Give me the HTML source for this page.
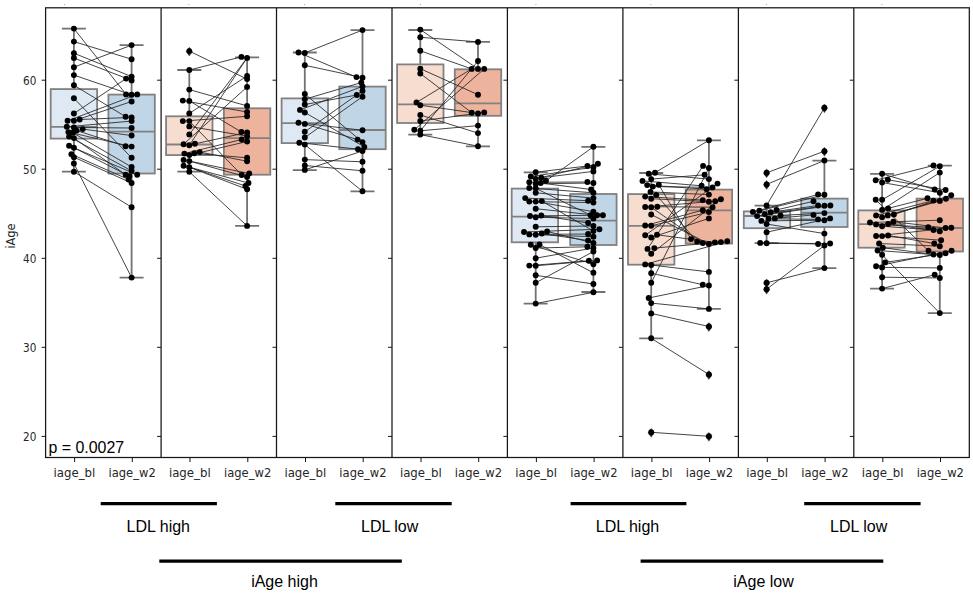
<!DOCTYPE html>
<html lang="en"><head><meta charset="utf-8"><title>iAge paired boxplots</title>
<style>html,body{margin:0;padding:0;background:#fff}svg{display:block}.dv{font-family:"DejaVu Sans","Liberation Sans",sans-serif;fill:#262626}.ar{font-family:"Liberation Sans",Arial,Helvetica,sans-serif;fill:#000}</style></head><body>
<svg width="973" height="596" viewBox="0 0 973 596">
<rect width="973" height="596" fill="#fff"/>
<rect x="64.0" y="4" width="1.1" height="1" fill="#a8a8a8"/>
<rect x="188.3" y="4" width="1.1" height="1" fill="#a8a8a8"/>
<rect x="304.0" y="4" width="1.1" height="1" fill="#a8a8a8"/>
<rect x="419.9" y="4" width="1.1" height="1" fill="#a8a8a8"/>
<rect x="535.4" y="4" width="1.1" height="1" fill="#a8a8a8"/>
<rect x="650.2" y="4" width="1.1" height="1" fill="#a8a8a8"/>
<rect x="766.0" y="4" width="1.1" height="1" fill="#a8a8a8"/>
<rect x="881.3" y="4" width="1.1" height="1" fill="#a8a8a8"/>
<g id="panel1">
<path d="M73.9 28.6V89.1M73.9 138.6V171.7M61.9 28.6H85.9M61.9 171.7H85.9" stroke="#727272" stroke-width="1.8" fill="none"/>
<rect x="50.7" y="89.1" width="46.4" height="49.5" fill="#dee9f3" stroke="#818181" stroke-width="1.8"/>
<path d="M50.7 126.8H97.1" stroke="#818181" stroke-width="1.8"/>
<path d="M131.6 45.1V94.6M131.6 173.5V277.6M119.6 45.1H143.6M119.6 277.6H143.6" stroke="#727272" stroke-width="1.8" fill="none"/>
<rect x="108.4" y="94.6" width="46.4" height="78.9" fill="#c0d5e5" stroke="#818181" stroke-width="1.8"/>
<path d="M108.4 131.6H154.8" stroke="#818181" stroke-width="1.8"/>
<path d="M73.9 28.6L126.1 94.4M73.9 41.6L131.6 59.2M73.9 53.2L131.6 76.6M73.9 58.0L131.6 80.4M73.9 67.2L131.6 45.1M73.9 75.1L131.6 94.8M73.9 85.2L125.6 116.7M73.9 98.3L131.6 157.8M73.9 113.5L126.1 78.6M67.6 120.8L137.2 94.4M73.9 120.8L131.6 101.5M79.7 119.5L131.6 117.4M66.8 126.8L131.6 121.1M73.9 127.5L131.6 128.0M82.7 129.1L131.6 135.5M76.7 130.6L125.6 146.2M68.4 132.1L131.6 146.6M72.9 132.8L131.6 167.0M69.1 136.6L131.6 170.9M73.9 138.1L125.6 174.7M69.1 145.8L137.2 174.7M73.9 147.7L129.4 176.2M71.4 154.2L128.6 179.5M73.9 157.2L131.6 183.0M73.9 163.5L131.6 277.6M73.9 171.7L131.6 207.2" stroke="#242424" stroke-width="0.85" fill="none"/>
<circle cx="73.9" cy="28.6" r="2.95" fill="#000"/>
<circle cx="73.9" cy="41.6" r="2.95" fill="#000"/>
<circle cx="73.9" cy="53.2" r="2.95" fill="#000"/>
<circle cx="73.9" cy="58.0" r="2.95" fill="#000"/>
<circle cx="73.9" cy="67.2" r="2.95" fill="#000"/>
<circle cx="73.9" cy="75.1" r="2.95" fill="#000"/>
<circle cx="73.9" cy="85.2" r="2.95" fill="#000"/>
<circle cx="73.9" cy="98.3" r="2.95" fill="#000"/>
<circle cx="73.9" cy="113.5" r="2.95" fill="#000"/>
<circle cx="67.6" cy="120.8" r="2.95" fill="#000"/>
<circle cx="73.9" cy="120.8" r="2.95" fill="#000"/>
<circle cx="79.7" cy="119.5" r="2.95" fill="#000"/>
<circle cx="66.8" cy="126.8" r="2.95" fill="#000"/>
<circle cx="73.9" cy="127.5" r="2.95" fill="#000"/>
<circle cx="82.7" cy="129.1" r="2.95" fill="#000"/>
<circle cx="76.7" cy="130.6" r="2.95" fill="#000"/>
<circle cx="68.4" cy="132.1" r="2.95" fill="#000"/>
<circle cx="72.9" cy="132.8" r="2.95" fill="#000"/>
<circle cx="69.1" cy="136.6" r="2.95" fill="#000"/>
<circle cx="73.9" cy="138.1" r="2.95" fill="#000"/>
<circle cx="69.1" cy="145.8" r="2.95" fill="#000"/>
<circle cx="73.9" cy="147.7" r="2.95" fill="#000"/>
<circle cx="71.4" cy="154.2" r="2.95" fill="#000"/>
<circle cx="73.9" cy="157.2" r="2.95" fill="#000"/>
<circle cx="73.9" cy="163.5" r="2.95" fill="#000"/>
<circle cx="73.9" cy="171.7" r="2.95" fill="#000"/>
<circle cx="131.6" cy="45.1" r="2.95" fill="#000"/>
<circle cx="131.6" cy="59.2" r="2.95" fill="#000"/>
<circle cx="131.6" cy="76.6" r="2.95" fill="#000"/>
<circle cx="126.1" cy="78.6" r="2.95" fill="#000"/>
<circle cx="131.6" cy="80.4" r="2.95" fill="#000"/>
<circle cx="126.1" cy="94.4" r="2.95" fill="#000"/>
<circle cx="131.6" cy="94.8" r="2.95" fill="#000"/>
<circle cx="137.2" cy="94.4" r="2.95" fill="#000"/>
<circle cx="131.6" cy="101.5" r="2.95" fill="#000"/>
<circle cx="125.6" cy="116.7" r="2.95" fill="#000"/>
<circle cx="131.6" cy="117.4" r="2.95" fill="#000"/>
<circle cx="131.6" cy="121.1" r="2.95" fill="#000"/>
<circle cx="131.6" cy="128.0" r="2.95" fill="#000"/>
<circle cx="131.6" cy="135.5" r="2.95" fill="#000"/>
<circle cx="125.6" cy="146.2" r="2.95" fill="#000"/>
<circle cx="131.6" cy="146.6" r="2.95" fill="#000"/>
<circle cx="131.6" cy="157.8" r="2.95" fill="#000"/>
<circle cx="131.6" cy="167.0" r="2.95" fill="#000"/>
<circle cx="131.6" cy="170.9" r="2.95" fill="#000"/>
<circle cx="125.6" cy="174.7" r="2.95" fill="#000"/>
<circle cx="137.2" cy="174.7" r="2.95" fill="#000"/>
<circle cx="129.4" cy="176.2" r="2.95" fill="#000"/>
<circle cx="128.6" cy="179.5" r="2.95" fill="#000"/>
<circle cx="131.6" cy="183.0" r="2.95" fill="#000"/>
<circle cx="131.6" cy="207.2" r="2.95" fill="#000"/>
<circle cx="131.6" cy="277.6" r="2.95" fill="#000"/>
</g>
<g id="panel2">
<path d="M189.3 70.0V116.3M189.3 155.1V171.7M177.3 70.0H201.3M177.3 171.7H201.3" stroke="#727272" stroke-width="1.8" fill="none"/>
<rect x="166.1" y="116.3" width="46.4" height="38.8" fill="#f7dcd0" stroke="#818181" stroke-width="1.8"/>
<path d="M166.1 144.5H212.5" stroke="#818181" stroke-width="1.8"/>
<path d="M247.1 57.4V108.3M247.1 174.7V225.9M235.1 57.4H259.1M235.1 225.9H259.1" stroke="#727272" stroke-width="1.8" fill="none"/>
<rect x="223.9" y="108.3" width="46.4" height="66.4" fill="#eeb39d" stroke="#818181" stroke-width="1.8"/>
<path d="M223.9 138.2H270.3" stroke="#818181" stroke-width="1.8"/>
<path d="M189.3 47.2L192.3 51.5L189.3 56.1L186.3 51.5Z" fill="#1c1c1c" stroke="#555" stroke-width="0.5"/>
<path d="M189.3 51.1L247.1 79.1M189.3 70.0L241.4 56.9M189.3 89.6L247.1 105.9M182.8 100.6L247.1 112.0M189.3 100.9L241.4 132.0M189.3 113.4L247.1 76.0M182.8 121.1L247.1 116.3M189.3 121.1L241.7 175.0M189.3 126.4L247.1 136.2M189.3 134.4L247.1 57.9M183.6 144.2L247.1 86.9M189.3 145.3L247.1 57.9M194.9 143.8L247.1 132.5M184.4 153.6L241.7 139.5M189.3 155.1L247.1 141.5M194.2 153.3L247.1 157.8M199.7 152.1L247.1 161.2M183.6 159.9L249.2 173.5M189.3 161.1L247.1 177.0M183.6 165.7L248.5 183.0M189.3 167.2L245.5 186.0M189.3 167.2L247.1 189.3M189.3 171.8L247.1 225.9" stroke="#242424" stroke-width="0.85" fill="none"/>
<circle cx="189.3" cy="51.1" r="2.95" fill="#000"/>
<circle cx="189.3" cy="70.0" r="2.95" fill="#000"/>
<circle cx="189.3" cy="89.6" r="2.95" fill="#000"/>
<circle cx="182.8" cy="100.6" r="2.95" fill="#000"/>
<circle cx="189.3" cy="100.9" r="2.95" fill="#000"/>
<circle cx="189.3" cy="113.4" r="2.95" fill="#000"/>
<circle cx="182.8" cy="121.1" r="2.95" fill="#000"/>
<circle cx="189.3" cy="121.1" r="2.95" fill="#000"/>
<circle cx="189.3" cy="126.4" r="2.95" fill="#000"/>
<circle cx="189.3" cy="134.4" r="2.95" fill="#000"/>
<circle cx="183.6" cy="144.2" r="2.95" fill="#000"/>
<circle cx="189.3" cy="145.3" r="2.95" fill="#000"/>
<circle cx="194.9" cy="143.8" r="2.95" fill="#000"/>
<circle cx="184.4" cy="153.6" r="2.95" fill="#000"/>
<circle cx="189.3" cy="155.1" r="2.95" fill="#000"/>
<circle cx="194.2" cy="153.3" r="2.95" fill="#000"/>
<circle cx="199.7" cy="152.1" r="2.95" fill="#000"/>
<circle cx="183.6" cy="159.9" r="2.95" fill="#000"/>
<circle cx="189.3" cy="161.1" r="2.95" fill="#000"/>
<circle cx="183.6" cy="165.7" r="2.95" fill="#000"/>
<circle cx="189.3" cy="167.2" r="2.95" fill="#000"/>
<circle cx="189.3" cy="171.8" r="2.95" fill="#000"/>
<circle cx="241.4" cy="56.9" r="2.95" fill="#000"/>
<circle cx="247.1" cy="57.9" r="2.95" fill="#000"/>
<circle cx="247.1" cy="76.0" r="2.95" fill="#000"/>
<circle cx="247.1" cy="79.1" r="2.95" fill="#000"/>
<circle cx="247.1" cy="86.9" r="2.95" fill="#000"/>
<circle cx="247.1" cy="105.9" r="2.95" fill="#000"/>
<circle cx="247.1" cy="112.0" r="2.95" fill="#000"/>
<circle cx="247.1" cy="116.3" r="2.95" fill="#000"/>
<circle cx="241.4" cy="132.0" r="2.95" fill="#000"/>
<circle cx="247.1" cy="132.5" r="2.95" fill="#000"/>
<circle cx="247.1" cy="136.2" r="2.95" fill="#000"/>
<circle cx="241.7" cy="139.5" r="2.95" fill="#000"/>
<circle cx="247.1" cy="141.5" r="2.95" fill="#000"/>
<circle cx="247.1" cy="157.8" r="2.95" fill="#000"/>
<circle cx="247.1" cy="161.2" r="2.95" fill="#000"/>
<circle cx="241.7" cy="175.0" r="2.95" fill="#000"/>
<circle cx="249.2" cy="173.5" r="2.95" fill="#000"/>
<circle cx="247.1" cy="177.0" r="2.95" fill="#000"/>
<circle cx="248.5" cy="183.0" r="2.95" fill="#000"/>
<circle cx="245.5" cy="186.0" r="2.95" fill="#000"/>
<circle cx="247.1" cy="189.3" r="2.95" fill="#000"/>
<circle cx="247.1" cy="225.9" r="2.95" fill="#000"/>
</g>
<g id="panel3">
<path d="M304.8 52.5V98.4M304.8 143.1V170.2M292.8 52.5H316.8M292.8 170.2H316.8" stroke="#727272" stroke-width="1.8" fill="none"/>
<rect x="281.6" y="98.4" width="46.4" height="44.7" fill="#dee9f3" stroke="#818181" stroke-width="1.8"/>
<path d="M281.6 123.2H328.0" stroke="#818181" stroke-width="1.8"/>
<path d="M362.5 30.1V86.6M362.5 149.2V191.3M350.5 30.1H374.5M350.5 191.3H374.5" stroke="#727272" stroke-width="1.8" fill="none"/>
<rect x="339.3" y="86.6" width="46.4" height="62.6" fill="#c0d5e5" stroke="#818181" stroke-width="1.8"/>
<path d="M339.3 130.0H385.7" stroke="#818181" stroke-width="1.8"/>
<path d="M298.5 52.5L356.5 77.1M304.8 52.9L362.5 30.1M304.8 65.3L362.5 77.7M304.8 94.0L362.5 142.1M304.8 99.2L361.3 82.6M304.8 104.5L356.8 95.0M300.0 109.9L362.5 86.4M304.8 112.5L364.3 146.9M298.5 122.7L362.5 130.3M304.8 123.9L357.6 139.6M304.8 131.8L362.5 90.9M304.8 137.5L362.5 96.7M299.3 142.7L358.0 149.2M304.8 144.6L362.5 191.3M304.8 159.6L362.5 161.8M304.8 165.5L362.5 170.8M304.8 169.9L362.5 151.0" stroke="#242424" stroke-width="0.85" fill="none"/>
<circle cx="298.5" cy="52.5" r="2.95" fill="#000"/>
<circle cx="304.8" cy="52.9" r="2.95" fill="#000"/>
<circle cx="304.8" cy="65.3" r="2.95" fill="#000"/>
<circle cx="304.8" cy="94.0" r="2.95" fill="#000"/>
<circle cx="304.8" cy="99.2" r="2.95" fill="#000"/>
<circle cx="304.8" cy="104.5" r="2.95" fill="#000"/>
<circle cx="300.0" cy="109.9" r="2.95" fill="#000"/>
<circle cx="304.8" cy="112.5" r="2.95" fill="#000"/>
<circle cx="298.5" cy="122.7" r="2.95" fill="#000"/>
<circle cx="304.8" cy="123.9" r="2.95" fill="#000"/>
<circle cx="304.8" cy="131.8" r="2.95" fill="#000"/>
<circle cx="304.8" cy="137.5" r="2.95" fill="#000"/>
<circle cx="299.3" cy="142.7" r="2.95" fill="#000"/>
<circle cx="304.8" cy="144.6" r="2.95" fill="#000"/>
<circle cx="304.8" cy="159.6" r="2.95" fill="#000"/>
<circle cx="304.8" cy="165.5" r="2.95" fill="#000"/>
<circle cx="304.8" cy="169.9" r="2.95" fill="#000"/>
<circle cx="362.5" cy="30.1" r="2.95" fill="#000"/>
<circle cx="356.5" cy="77.1" r="2.95" fill="#000"/>
<circle cx="362.5" cy="77.7" r="2.95" fill="#000"/>
<circle cx="361.3" cy="82.6" r="2.95" fill="#000"/>
<circle cx="362.5" cy="86.4" r="2.95" fill="#000"/>
<circle cx="362.5" cy="90.9" r="2.95" fill="#000"/>
<circle cx="356.8" cy="95.0" r="2.95" fill="#000"/>
<circle cx="362.5" cy="96.7" r="2.95" fill="#000"/>
<circle cx="362.5" cy="130.3" r="2.95" fill="#000"/>
<circle cx="357.6" cy="139.6" r="2.95" fill="#000"/>
<circle cx="362.5" cy="142.1" r="2.95" fill="#000"/>
<circle cx="364.3" cy="146.9" r="2.95" fill="#000"/>
<circle cx="358.0" cy="149.2" r="2.95" fill="#000"/>
<circle cx="362.5" cy="151.0" r="2.95" fill="#000"/>
<circle cx="362.5" cy="161.8" r="2.95" fill="#000"/>
<circle cx="362.5" cy="170.8" r="2.95" fill="#000"/>
<circle cx="362.5" cy="191.3" r="2.95" fill="#000"/>
</g>
<g id="panel4">
<path d="M420.3 30.0V64.4M420.3 123.0V134.6M408.3 30.0H432.3M408.3 134.6H432.3" stroke="#727272" stroke-width="1.8" fill="none"/>
<rect x="397.1" y="64.4" width="46.4" height="58.6" fill="#f7dcd0" stroke="#818181" stroke-width="1.8"/>
<path d="M397.1 104.3H443.5" stroke="#818181" stroke-width="1.8"/>
<path d="M478.0 41.9V69.3M478.0 115.8V146.4M466.0 41.9H490.0M466.0 146.4H490.0" stroke="#727272" stroke-width="1.8" fill="none"/>
<rect x="454.8" y="69.3" width="46.4" height="46.5" fill="#eeb39d" stroke="#818181" stroke-width="1.8"/>
<path d="M454.8 103.4H501.2" stroke="#818181" stroke-width="1.8"/>
<path d="M420.3 29.6L478.0 68.9M420.3 37.3L478.0 41.9M420.3 50.8L471.7 68.9M420.3 68.7L478.0 94.7M420.3 73.5L471.7 112.7M416.5 102.4L471.7 68.9M420.3 105.2L478.0 113.5M420.3 115.0L478.0 133.1M420.3 121.0L484.2 112.4M414.3 129.8L484.2 68.9M420.3 130.8L478.0 61.0M420.3 130.8L478.0 125.6M420.3 134.6L478.0 146.2" stroke="#242424" stroke-width="0.85" fill="none"/>
<circle cx="420.3" cy="29.6" r="2.95" fill="#000"/>
<circle cx="420.3" cy="37.3" r="2.95" fill="#000"/>
<circle cx="420.3" cy="50.8" r="2.95" fill="#000"/>
<circle cx="420.3" cy="68.7" r="2.95" fill="#000"/>
<circle cx="420.3" cy="73.5" r="2.95" fill="#000"/>
<circle cx="416.5" cy="102.4" r="2.95" fill="#000"/>
<circle cx="420.3" cy="105.2" r="2.95" fill="#000"/>
<circle cx="420.3" cy="115.0" r="2.95" fill="#000"/>
<circle cx="420.3" cy="121.0" r="2.95" fill="#000"/>
<circle cx="414.3" cy="129.8" r="2.95" fill="#000"/>
<circle cx="420.3" cy="130.8" r="2.95" fill="#000"/>
<circle cx="420.3" cy="134.6" r="2.95" fill="#000"/>
<circle cx="478.0" cy="41.9" r="2.95" fill="#000"/>
<circle cx="478.0" cy="61.0" r="2.95" fill="#000"/>
<circle cx="471.7" cy="68.9" r="2.95" fill="#000"/>
<circle cx="478.0" cy="68.9" r="2.95" fill="#000"/>
<circle cx="484.2" cy="68.9" r="2.95" fill="#000"/>
<circle cx="478.0" cy="94.7" r="2.95" fill="#000"/>
<circle cx="471.7" cy="112.7" r="2.95" fill="#000"/>
<circle cx="478.0" cy="113.5" r="2.95" fill="#000"/>
<circle cx="484.2" cy="112.4" r="2.95" fill="#000"/>
<circle cx="478.0" cy="125.6" r="2.95" fill="#000"/>
<circle cx="478.0" cy="133.1" r="2.95" fill="#000"/>
<circle cx="478.0" cy="146.2" r="2.95" fill="#000"/>
</g>
<g id="panel5">
<path d="M535.7 172.4V188.6M535.7 242.3V303.6M523.7 172.4H547.7M523.7 303.6H547.7" stroke="#727272" stroke-width="1.8" fill="none"/>
<rect x="511.7" y="188.6" width="46.4" height="53.7" fill="#dee9f3" stroke="#818181" stroke-width="1.8"/>
<path d="M511.7 216.6H558.1" stroke="#818181" stroke-width="1.8"/>
<path d="M593.4 146.8V194.0M593.4 245.0V292.0M581.4 146.8H605.4M581.4 292.0H605.4" stroke="#727272" stroke-width="1.8" fill="none"/>
<rect x="570.2" y="194.0" width="46.4" height="51.0" fill="#c0d5e5" stroke="#818181" stroke-width="1.8"/>
<path d="M570.2 220.7H616.6" stroke="#818181" stroke-width="1.8"/>
<path d="M535.7 172.2L587.4 166.0M530.8 176.5L593.4 167.2M535.7 178.9L597.9 163.8M541.3 177.7L593.4 171.4M545.9 180.8L593.4 146.8M529.3 182.3L587.4 182.0M535.7 183.8L593.4 183.0M540.6 183.0L591.1 189.5M529.3 188.0L593.4 192.8M535.7 188.3L590.6 215.2M535.7 192.8L593.4 198.1M525.2 198.1L588.1 200.7M529.3 201.6L593.4 202.6M535.7 201.6L593.4 211.7M541.8 201.1L593.4 231.0M535.7 208.7L597.1 215.3M530.0 216.0L602.9 215.2M535.7 217.3L593.4 218.5M541.3 215.5L588.1 223.0M535.7 226.8L593.4 226.0M524.0 232.0L599.4 229.2M529.3 234.4L588.1 234.0M535.7 234.7L593.4 236.7M541.8 233.5L588.1 240.5M547.1 231.4L593.4 243.0M530.8 244.8L593.4 264.2M535.7 248.0L587.4 246.8M539.5 244.5L593.4 272.8M535.7 258.2L593.4 248.0M529.3 265.6L588.9 260.8M535.7 265.8L597.1 260.4M535.7 275.3L593.4 284.0M535.7 282.8L593.4 251.5M535.7 303.6L593.4 292.3" stroke="#242424" stroke-width="0.85" fill="none"/>
<circle cx="535.7" cy="172.2" r="2.95" fill="#000"/>
<circle cx="530.8" cy="176.5" r="2.95" fill="#000"/>
<circle cx="535.7" cy="178.9" r="2.95" fill="#000"/>
<circle cx="541.3" cy="177.7" r="2.95" fill="#000"/>
<circle cx="545.9" cy="180.8" r="2.95" fill="#000"/>
<circle cx="529.3" cy="182.3" r="2.95" fill="#000"/>
<circle cx="535.7" cy="183.8" r="2.95" fill="#000"/>
<circle cx="540.6" cy="183.0" r="2.95" fill="#000"/>
<circle cx="529.3" cy="188.0" r="2.95" fill="#000"/>
<circle cx="535.7" cy="188.3" r="2.95" fill="#000"/>
<circle cx="535.7" cy="192.8" r="2.95" fill="#000"/>
<circle cx="525.2" cy="198.1" r="2.95" fill="#000"/>
<circle cx="529.3" cy="201.6" r="2.95" fill="#000"/>
<circle cx="535.7" cy="201.6" r="2.95" fill="#000"/>
<circle cx="541.8" cy="201.1" r="2.95" fill="#000"/>
<circle cx="535.7" cy="208.7" r="2.95" fill="#000"/>
<circle cx="530.0" cy="216.0" r="2.95" fill="#000"/>
<circle cx="535.7" cy="217.3" r="2.95" fill="#000"/>
<circle cx="541.3" cy="215.5" r="2.95" fill="#000"/>
<circle cx="535.7" cy="226.8" r="2.95" fill="#000"/>
<circle cx="524.0" cy="232.0" r="2.95" fill="#000"/>
<circle cx="529.3" cy="234.4" r="2.95" fill="#000"/>
<circle cx="535.7" cy="234.7" r="2.95" fill="#000"/>
<circle cx="541.8" cy="233.5" r="2.95" fill="#000"/>
<circle cx="547.1" cy="231.4" r="2.95" fill="#000"/>
<circle cx="530.8" cy="244.8" r="2.95" fill="#000"/>
<circle cx="535.7" cy="248.0" r="2.95" fill="#000"/>
<circle cx="539.5" cy="244.5" r="2.95" fill="#000"/>
<circle cx="535.7" cy="258.2" r="2.95" fill="#000"/>
<circle cx="529.3" cy="265.6" r="2.95" fill="#000"/>
<circle cx="535.7" cy="265.8" r="2.95" fill="#000"/>
<circle cx="535.7" cy="275.3" r="2.95" fill="#000"/>
<circle cx="535.7" cy="282.8" r="2.95" fill="#000"/>
<circle cx="535.7" cy="303.6" r="2.95" fill="#000"/>
<circle cx="593.4" cy="146.8" r="2.95" fill="#000"/>
<circle cx="587.4" cy="166.0" r="2.95" fill="#000"/>
<circle cx="593.4" cy="167.2" r="2.95" fill="#000"/>
<circle cx="597.9" cy="163.8" r="2.95" fill="#000"/>
<circle cx="593.4" cy="171.4" r="2.95" fill="#000"/>
<circle cx="587.4" cy="182.0" r="2.95" fill="#000"/>
<circle cx="593.4" cy="183.0" r="2.95" fill="#000"/>
<circle cx="591.1" cy="189.5" r="2.95" fill="#000"/>
<circle cx="593.4" cy="192.8" r="2.95" fill="#000"/>
<circle cx="593.4" cy="198.1" r="2.95" fill="#000"/>
<circle cx="588.1" cy="200.7" r="2.95" fill="#000"/>
<circle cx="593.4" cy="202.6" r="2.95" fill="#000"/>
<circle cx="593.4" cy="211.7" r="2.95" fill="#000"/>
<circle cx="590.6" cy="215.2" r="2.95" fill="#000"/>
<circle cx="597.1" cy="215.3" r="2.95" fill="#000"/>
<circle cx="602.9" cy="215.2" r="2.95" fill="#000"/>
<circle cx="593.4" cy="218.5" r="2.95" fill="#000"/>
<circle cx="588.1" cy="223.0" r="2.95" fill="#000"/>
<circle cx="593.4" cy="226.0" r="2.95" fill="#000"/>
<circle cx="599.4" cy="229.2" r="2.95" fill="#000"/>
<circle cx="593.4" cy="231.0" r="2.95" fill="#000"/>
<circle cx="588.1" cy="234.0" r="2.95" fill="#000"/>
<circle cx="593.4" cy="236.7" r="2.95" fill="#000"/>
<circle cx="588.1" cy="240.5" r="2.95" fill="#000"/>
<circle cx="593.4" cy="243.0" r="2.95" fill="#000"/>
<circle cx="587.4" cy="246.8" r="2.95" fill="#000"/>
<circle cx="593.4" cy="248.0" r="2.95" fill="#000"/>
<circle cx="593.4" cy="251.5" r="2.95" fill="#000"/>
<circle cx="588.9" cy="260.8" r="2.95" fill="#000"/>
<circle cx="597.1" cy="260.4" r="2.95" fill="#000"/>
<circle cx="593.4" cy="264.2" r="2.95" fill="#000"/>
<circle cx="593.4" cy="272.8" r="2.95" fill="#000"/>
<circle cx="593.4" cy="284.0" r="2.95" fill="#000"/>
<circle cx="593.4" cy="292.3" r="2.95" fill="#000"/>
</g>
<g id="panel6">
<path d="M651.2 173.0V194.1M651.2 264.7V338.3M639.2 173.0H663.2M639.2 338.3H663.2" stroke="#727272" stroke-width="1.8" fill="none"/>
<rect x="628.0" y="194.1" width="46.4" height="70.6" fill="#f7dcd0" stroke="#818181" stroke-width="1.8"/>
<path d="M628.0 225.8H674.4" stroke="#818181" stroke-width="1.8"/>
<path d="M708.9 140.3V189.6M708.9 243.6V308.9M696.9 140.3H720.9M696.9 308.9H720.9" stroke="#727272" stroke-width="1.8" fill="none"/>
<rect x="685.7" y="189.6" width="46.4" height="54.0" fill="#eeb39d" stroke="#818181" stroke-width="1.8"/>
<path d="M685.7 210.3H732.1" stroke="#818181" stroke-width="1.8"/>
<path d="M651.2 428.4L654.2 432.7L651.2 437.3L648.2 432.7Z" fill="#1c1c1c" stroke="#555" stroke-width="0.5"/>
<path d="M708.9 322.6L711.9 326.9L708.9 331.5L705.9 326.9Z" fill="#1c1c1c" stroke="#555" stroke-width="0.5"/>
<path d="M708.9 370.6L711.9 374.9L708.9 379.5L705.9 374.9Z" fill="#1c1c1c" stroke="#555" stroke-width="0.5"/>
<path d="M708.9 432.4L711.9 436.7L708.9 441.3L705.9 436.7Z" fill="#1c1c1c" stroke="#555" stroke-width="0.5"/>
<path d="M655.0 172.7L708.9 140.3M648.7 173.8L708.9 179.1M651.2 179.1L704.6 174.8M642.5 180.9L701.6 185.8M647.2 185.1L706.6 189.2M652.8 186.6L712.5 187.4M658.8 184.8L691.0 239.1M650.5 191.9L708.9 194.6M656.2 194.9L697.1 241.6M645.2 196.6L702.8 200.1M651.2 198.7L708.9 201.7M645.2 207.0L715.2 201.2M651.2 207.3L702.8 243.1M657.3 206.7L712.5 207.2M651.2 214.5L708.9 243.9M645.2 225.5L702.8 210.2M651.2 225.8L708.9 212.1M645.2 235.3L717.5 183.6M651.2 237.5L708.9 218.4M657.0 234.8L714.9 242.4M647.5 248.9L703.1 165.9M654.3 248.1L720.9 242.1M651.2 253.8L720.9 199.2M645.2 264.4L727.3 241.3M651.2 265.0L708.9 271.9M651.2 273.2L702.8 284.7M651.2 282.8L708.9 168.0M648.7 298.0L708.9 285.5M651.2 303.1L708.9 308.9M651.2 313.4L708.9 326.5M651.2 338.3L708.9 374.5M651.2 432.3L708.9 436.3" stroke="#242424" stroke-width="0.85" fill="none"/>
<circle cx="648.7" cy="173.8" r="2.95" fill="#000"/>
<circle cx="655.0" cy="172.7" r="2.95" fill="#000"/>
<circle cx="651.2" cy="179.1" r="2.95" fill="#000"/>
<circle cx="642.5" cy="180.9" r="2.95" fill="#000"/>
<circle cx="647.2" cy="185.1" r="2.95" fill="#000"/>
<circle cx="652.8" cy="186.6" r="2.95" fill="#000"/>
<circle cx="658.8" cy="184.8" r="2.95" fill="#000"/>
<circle cx="650.5" cy="191.9" r="2.95" fill="#000"/>
<circle cx="656.2" cy="194.9" r="2.95" fill="#000"/>
<circle cx="645.2" cy="196.6" r="2.95" fill="#000"/>
<circle cx="651.2" cy="198.7" r="2.95" fill="#000"/>
<circle cx="645.2" cy="207.0" r="2.95" fill="#000"/>
<circle cx="651.2" cy="207.3" r="2.95" fill="#000"/>
<circle cx="657.3" cy="206.7" r="2.95" fill="#000"/>
<circle cx="651.2" cy="214.5" r="2.95" fill="#000"/>
<circle cx="645.2" cy="225.5" r="2.95" fill="#000"/>
<circle cx="651.2" cy="225.8" r="2.95" fill="#000"/>
<circle cx="645.2" cy="235.3" r="2.95" fill="#000"/>
<circle cx="651.2" cy="237.5" r="2.95" fill="#000"/>
<circle cx="657.0" cy="234.8" r="2.95" fill="#000"/>
<circle cx="647.5" cy="248.9" r="2.95" fill="#000"/>
<circle cx="654.3" cy="248.1" r="2.95" fill="#000"/>
<circle cx="651.2" cy="253.8" r="2.95" fill="#000"/>
<circle cx="645.2" cy="264.4" r="2.95" fill="#000"/>
<circle cx="651.2" cy="265.0" r="2.95" fill="#000"/>
<circle cx="651.2" cy="273.2" r="2.95" fill="#000"/>
<circle cx="651.2" cy="282.8" r="2.95" fill="#000"/>
<circle cx="648.7" cy="298.0" r="2.95" fill="#000"/>
<circle cx="651.2" cy="303.1" r="2.95" fill="#000"/>
<circle cx="651.2" cy="313.4" r="2.95" fill="#000"/>
<circle cx="651.2" cy="338.3" r="2.95" fill="#000"/>
<circle cx="651.2" cy="432.3" r="2.95" fill="#000"/>
<circle cx="708.9" cy="140.3" r="2.95" fill="#000"/>
<circle cx="703.1" cy="165.9" r="2.95" fill="#000"/>
<circle cx="708.9" cy="168.0" r="2.95" fill="#000"/>
<circle cx="704.6" cy="174.8" r="2.95" fill="#000"/>
<circle cx="708.9" cy="179.1" r="2.95" fill="#000"/>
<circle cx="701.6" cy="185.8" r="2.95" fill="#000"/>
<circle cx="706.6" cy="189.2" r="2.95" fill="#000"/>
<circle cx="712.5" cy="187.4" r="2.95" fill="#000"/>
<circle cx="717.5" cy="183.6" r="2.95" fill="#000"/>
<circle cx="708.9" cy="194.6" r="2.95" fill="#000"/>
<circle cx="702.8" cy="200.1" r="2.95" fill="#000"/>
<circle cx="708.9" cy="201.7" r="2.95" fill="#000"/>
<circle cx="715.2" cy="201.2" r="2.95" fill="#000"/>
<circle cx="720.9" cy="199.2" r="2.95" fill="#000"/>
<circle cx="712.5" cy="207.2" r="2.95" fill="#000"/>
<circle cx="702.8" cy="210.2" r="2.95" fill="#000"/>
<circle cx="708.9" cy="212.1" r="2.95" fill="#000"/>
<circle cx="708.9" cy="218.4" r="2.95" fill="#000"/>
<circle cx="691.0" cy="239.1" r="2.95" fill="#000"/>
<circle cx="697.1" cy="241.6" r="2.95" fill="#000"/>
<circle cx="702.8" cy="243.1" r="2.95" fill="#000"/>
<circle cx="708.9" cy="243.9" r="2.95" fill="#000"/>
<circle cx="714.9" cy="242.4" r="2.95" fill="#000"/>
<circle cx="720.9" cy="242.1" r="2.95" fill="#000"/>
<circle cx="727.3" cy="241.3" r="2.95" fill="#000"/>
<circle cx="708.9" cy="271.9" r="2.95" fill="#000"/>
<circle cx="702.8" cy="284.7" r="2.95" fill="#000"/>
<circle cx="708.9" cy="285.5" r="2.95" fill="#000"/>
<circle cx="708.9" cy="308.9" r="2.95" fill="#000"/>
<circle cx="708.9" cy="326.5" r="2.95" fill="#000"/>
<circle cx="708.9" cy="374.5" r="2.95" fill="#000"/>
<circle cx="708.9" cy="436.3" r="2.95" fill="#000"/>
</g>
<g id="panel7">
<path d="M766.6 205.6V211.4M766.6 228.2V243.2M754.6 205.6H778.6M754.6 243.2H778.6" stroke="#727272" stroke-width="1.8" fill="none"/>
<rect x="743.8" y="211.4" width="46.4" height="16.8" fill="#dee9f3" stroke="#818181" stroke-width="1.8"/>
<path d="M743.8 216.0H790.2" stroke="#818181" stroke-width="1.8"/>
<path d="M824.4 160.6V198.6M824.4 227.0V268.1M812.4 160.6H836.4M812.4 268.1H836.4" stroke="#727272" stroke-width="1.8" fill="none"/>
<rect x="801.2" y="198.6" width="46.4" height="28.4" fill="#c0d5e5" stroke="#818181" stroke-width="1.8"/>
<path d="M801.2 212.6H847.6" stroke="#818181" stroke-width="1.8"/>
<path d="M766.6 168.9L769.6 173.2L766.6 177.8L763.6 173.2Z" fill="#1c1c1c" stroke="#555" stroke-width="0.5"/>
<path d="M766.6 180.5L769.6 184.8L766.6 189.4L763.6 184.8Z" fill="#1c1c1c" stroke="#555" stroke-width="0.5"/>
<path d="M766.6 278.9L769.6 283.2L766.6 287.8L763.6 283.2Z" fill="#1c1c1c" stroke="#555" stroke-width="0.5"/>
<path d="M766.6 285.3L769.6 289.6L766.6 294.2L763.6 289.6Z" fill="#1c1c1c" stroke="#555" stroke-width="0.5"/>
<path d="M824.4 103.9L827.4 108.2L824.4 112.8L821.4 108.2Z" fill="#1c1c1c" stroke="#555" stroke-width="0.5"/>
<path d="M824.4 147.3L827.4 151.6L824.4 156.2L821.4 151.6Z" fill="#1c1c1c" stroke="#555" stroke-width="0.5"/>
<path d="M766.6 172.8L824.4 151.2M766.6 184.4L824.4 160.5M766.6 205.4L824.4 107.8M752.9 211.9L818.1 194.5M759.4 210.8L824.4 194.8M776.5 209.9L813.5 201.3M770.7 212.2L818.1 205.5M764.7 214.2L824.4 205.8M757.1 216.1L830.4 205.5M780.5 215.4L824.4 213.1M774.9 218.4L813.5 214.9M768.5 218.7L818.1 219.4M761.4 220.9L824.4 220.2M766.6 224.0L824.4 233.6M766.6 232.2L830.1 218.4M760.2 242.9L818.1 244.0M766.6 243.2L830.1 243.5M766.6 282.8L824.4 268.1M766.6 289.2L824.4 245.5" stroke="#242424" stroke-width="0.85" fill="none"/>
<circle cx="766.6" cy="172.8" r="2.95" fill="#000"/>
<circle cx="766.6" cy="184.4" r="2.95" fill="#000"/>
<circle cx="766.6" cy="205.4" r="2.95" fill="#000"/>
<circle cx="752.9" cy="211.9" r="2.95" fill="#000"/>
<circle cx="759.4" cy="210.8" r="2.95" fill="#000"/>
<circle cx="776.5" cy="209.9" r="2.95" fill="#000"/>
<circle cx="770.7" cy="212.2" r="2.95" fill="#000"/>
<circle cx="764.7" cy="214.2" r="2.95" fill="#000"/>
<circle cx="757.1" cy="216.1" r="2.95" fill="#000"/>
<circle cx="780.5" cy="215.4" r="2.95" fill="#000"/>
<circle cx="774.9" cy="218.4" r="2.95" fill="#000"/>
<circle cx="768.5" cy="218.7" r="2.95" fill="#000"/>
<circle cx="761.4" cy="220.9" r="2.95" fill="#000"/>
<circle cx="766.6" cy="224.0" r="2.95" fill="#000"/>
<circle cx="766.6" cy="232.2" r="2.95" fill="#000"/>
<circle cx="760.2" cy="242.9" r="2.95" fill="#000"/>
<circle cx="766.6" cy="243.2" r="2.95" fill="#000"/>
<circle cx="766.6" cy="282.8" r="2.95" fill="#000"/>
<circle cx="766.6" cy="289.2" r="2.95" fill="#000"/>
<circle cx="824.4" cy="107.8" r="2.95" fill="#000"/>
<circle cx="824.4" cy="151.2" r="2.95" fill="#000"/>
<circle cx="824.4" cy="160.5" r="2.95" fill="#000"/>
<circle cx="818.1" cy="194.5" r="2.95" fill="#000"/>
<circle cx="824.4" cy="194.8" r="2.95" fill="#000"/>
<circle cx="813.5" cy="201.3" r="2.95" fill="#000"/>
<circle cx="818.1" cy="205.5" r="2.95" fill="#000"/>
<circle cx="824.4" cy="205.8" r="2.95" fill="#000"/>
<circle cx="830.4" cy="205.5" r="2.95" fill="#000"/>
<circle cx="824.4" cy="213.1" r="2.95" fill="#000"/>
<circle cx="813.5" cy="214.9" r="2.95" fill="#000"/>
<circle cx="818.1" cy="219.4" r="2.95" fill="#000"/>
<circle cx="824.4" cy="220.2" r="2.95" fill="#000"/>
<circle cx="830.1" cy="218.4" r="2.95" fill="#000"/>
<circle cx="824.4" cy="233.6" r="2.95" fill="#000"/>
<circle cx="818.1" cy="244.0" r="2.95" fill="#000"/>
<circle cx="824.4" cy="245.5" r="2.95" fill="#000"/>
<circle cx="830.1" cy="243.5" r="2.95" fill="#000"/>
<circle cx="824.4" cy="268.1" r="2.95" fill="#000"/>
</g>
<g id="panel8">
<path d="M882.1 173.8V210.4M882.1 247.7V288.6M870.1 173.8H894.1M870.1 288.6H894.1" stroke="#727272" stroke-width="1.8" fill="none"/>
<rect x="858.3" y="210.4" width="46.4" height="37.3" fill="#f7dcd0" stroke="#818181" stroke-width="1.8"/>
<path d="M858.3 224.2H904.7" stroke="#818181" stroke-width="1.8"/>
<path d="M939.8 165.6V198.6M939.8 251.5V313.1M927.8 165.6H951.8M927.8 313.1H951.8" stroke="#727272" stroke-width="1.8" fill="none"/>
<rect x="916.6" y="198.6" width="46.4" height="52.9" fill="#eeb39d" stroke="#818181" stroke-width="1.8"/>
<path d="M916.6 228.0H963.0" stroke="#818181" stroke-width="1.8"/>
<path d="M882.1 173.8L934.7 189.5M875.7 180.2L933.5 165.5M882.1 182.5L939.8 192.7M887.8 179.7L945.6 190.0M875.7 199.8L928.5 250.8M882.1 199.8L939.8 166.2M882.1 209.9L939.8 172.6M888.1 208.4L927.5 198.3M876.1 215.4L933.5 200.6M882.1 217.2L939.8 200.9M887.7 215.4L945.9 198.8M893.9 214.5L951.2 195.3M870.0 222.5L939.8 220.2M876.1 224.4L928.2 227.1M882.1 226.2L933.5 230.0M888.1 224.0L939.8 231.3M893.4 221.7L945.6 228.0M876.1 236.0L951.3 227.7M882.1 236.1L941.1 240.2M888.1 235.5L934.3 243.5M879.1 243.5L939.8 246.2M882.8 247.7L933.5 254.5M877.6 250.5L939.8 255.0M882.1 254.8L939.8 313.1M885.1 262.4L945.6 253.3M876.1 266.2L951.6 250.8M882.1 267.4L939.8 267.9M882.1 277.2L939.8 278.0M882.1 288.6L934.7 274.7" stroke="#242424" stroke-width="0.85" fill="none"/>
<circle cx="882.1" cy="173.8" r="2.95" fill="#000"/>
<circle cx="875.7" cy="180.2" r="2.95" fill="#000"/>
<circle cx="882.1" cy="182.5" r="2.95" fill="#000"/>
<circle cx="887.8" cy="179.7" r="2.95" fill="#000"/>
<circle cx="875.7" cy="199.8" r="2.95" fill="#000"/>
<circle cx="882.1" cy="199.8" r="2.95" fill="#000"/>
<circle cx="882.1" cy="209.9" r="2.95" fill="#000"/>
<circle cx="888.1" cy="208.4" r="2.95" fill="#000"/>
<circle cx="876.1" cy="215.4" r="2.95" fill="#000"/>
<circle cx="882.1" cy="217.2" r="2.95" fill="#000"/>
<circle cx="887.7" cy="215.4" r="2.95" fill="#000"/>
<circle cx="893.9" cy="214.5" r="2.95" fill="#000"/>
<circle cx="870.0" cy="222.5" r="2.95" fill="#000"/>
<circle cx="876.1" cy="224.4" r="2.95" fill="#000"/>
<circle cx="882.1" cy="226.2" r="2.95" fill="#000"/>
<circle cx="888.1" cy="224.0" r="2.95" fill="#000"/>
<circle cx="893.4" cy="221.7" r="2.95" fill="#000"/>
<circle cx="876.1" cy="236.0" r="2.95" fill="#000"/>
<circle cx="882.1" cy="236.1" r="2.95" fill="#000"/>
<circle cx="888.1" cy="235.5" r="2.95" fill="#000"/>
<circle cx="879.1" cy="243.5" r="2.95" fill="#000"/>
<circle cx="882.8" cy="247.7" r="2.95" fill="#000"/>
<circle cx="877.6" cy="250.5" r="2.95" fill="#000"/>
<circle cx="882.1" cy="254.8" r="2.95" fill="#000"/>
<circle cx="885.1" cy="262.4" r="2.95" fill="#000"/>
<circle cx="876.1" cy="266.2" r="2.95" fill="#000"/>
<circle cx="882.1" cy="267.4" r="2.95" fill="#000"/>
<circle cx="882.1" cy="277.2" r="2.95" fill="#000"/>
<circle cx="882.1" cy="288.6" r="2.95" fill="#000"/>
<circle cx="933.5" cy="165.5" r="2.95" fill="#000"/>
<circle cx="939.8" cy="166.2" r="2.95" fill="#000"/>
<circle cx="939.8" cy="172.6" r="2.95" fill="#000"/>
<circle cx="934.7" cy="189.5" r="2.95" fill="#000"/>
<circle cx="939.8" cy="192.7" r="2.95" fill="#000"/>
<circle cx="945.6" cy="190.0" r="2.95" fill="#000"/>
<circle cx="927.5" cy="198.3" r="2.95" fill="#000"/>
<circle cx="933.5" cy="200.6" r="2.95" fill="#000"/>
<circle cx="939.8" cy="200.9" r="2.95" fill="#000"/>
<circle cx="945.9" cy="198.8" r="2.95" fill="#000"/>
<circle cx="951.2" cy="195.3" r="2.95" fill="#000"/>
<circle cx="939.8" cy="220.2" r="2.95" fill="#000"/>
<circle cx="928.2" cy="227.1" r="2.95" fill="#000"/>
<circle cx="933.5" cy="230.0" r="2.95" fill="#000"/>
<circle cx="939.8" cy="231.3" r="2.95" fill="#000"/>
<circle cx="945.6" cy="228.0" r="2.95" fill="#000"/>
<circle cx="951.3" cy="227.7" r="2.95" fill="#000"/>
<circle cx="941.1" cy="240.2" r="2.95" fill="#000"/>
<circle cx="934.3" cy="243.5" r="2.95" fill="#000"/>
<circle cx="939.8" cy="246.2" r="2.95" fill="#000"/>
<circle cx="928.5" cy="250.8" r="2.95" fill="#000"/>
<circle cx="933.5" cy="254.5" r="2.95" fill="#000"/>
<circle cx="939.8" cy="255.0" r="2.95" fill="#000"/>
<circle cx="945.6" cy="253.3" r="2.95" fill="#000"/>
<circle cx="951.6" cy="250.8" r="2.95" fill="#000"/>
<circle cx="939.8" cy="267.9" r="2.95" fill="#000"/>
<circle cx="934.7" cy="274.7" r="2.95" fill="#000"/>
<circle cx="939.8" cy="278.0" r="2.95" fill="#000"/>
<circle cx="939.8" cy="313.1" r="2.95" fill="#000"/>
</g>
<g id="axes" stroke="#161616" stroke-width="1.25" fill="none">
<rect x="45.6" y="7.8" width="923.7" height="449.7"/>
<path d="M161.1 7.8V457.5"/>
<path d="M276.5 7.8V457.5"/>
<path d="M392.0 7.8V457.5"/>
<path d="M507.4 7.8V457.5"/>
<path d="M622.9 7.8V457.5"/>
<path d="M738.4 7.8V457.5"/>
<path d="M853.8 7.8V457.5"/>
<path d="M41.6 436.4H45.6M41.6 347.3H45.6M41.6 258.3H45.6M41.6 169.2H45.6M41.6 80.2H45.6M74.6 457.5v4.6M132.3 457.5v4.6M157.1 436.4H161.1M157.1 347.3H161.1M157.1 258.3H161.1M157.1 169.2H161.1M157.1 80.2H161.1M190.0 457.5v4.6M247.8 457.5v4.6M272.5 436.4H276.5M272.5 347.3H276.5M272.5 258.3H276.5M272.5 169.2H276.5M272.5 80.2H276.5M305.5 457.5v4.6M363.2 457.5v4.6M388.0 436.4H392.0M388.0 347.3H392.0M388.0 258.3H392.0M388.0 169.2H392.0M388.0 80.2H392.0M421.0 457.5v4.6M478.7 457.5v4.6M503.4 436.4H507.4M503.4 347.3H507.4M503.4 258.3H507.4M503.4 169.2H507.4M503.4 80.2H507.4M536.4 457.5v4.6M594.1 457.5v4.6M618.9 436.4H622.9M618.9 347.3H622.9M618.9 258.3H622.9M618.9 169.2H622.9M618.9 80.2H622.9M651.9 457.5v4.6M709.6 457.5v4.6M734.4 436.4H738.4M734.4 347.3H738.4M734.4 258.3H738.4M734.4 169.2H738.4M734.4 80.2H738.4M767.3 457.5v4.6M825.1 457.5v4.6M849.8 436.4H853.8M849.8 347.3H853.8M849.8 258.3H853.8M849.8 169.2H853.8M849.8 80.2H853.8M882.8 457.5v4.6M940.5 457.5v4.6" stroke-width="1"/>
</g>
<g class="dv" font-size="12.3">
<text x="36.4" y="441.4" text-anchor="end" font-size="12.6" textLength="13.3" lengthAdjust="spacingAndGlyphs">20</text>
<text x="36.4" y="352.3" text-anchor="end" font-size="12.6" textLength="13.3" lengthAdjust="spacingAndGlyphs">30</text>
<text x="36.4" y="263.3" text-anchor="end" font-size="12.6" textLength="13.3" lengthAdjust="spacingAndGlyphs">40</text>
<text x="36.4" y="174.2" text-anchor="end" font-size="12.6" textLength="13.3" lengthAdjust="spacingAndGlyphs">50</text>
<text x="36.4" y="85.2" text-anchor="end" font-size="12.6" textLength="13.3" lengthAdjust="spacingAndGlyphs">60</text>
<text x="74.4" y="476.9" text-anchor="middle" font-size="12.8" textLength="41.8" lengthAdjust="spacingAndGlyphs">iage_bl</text>
<text x="132.1" y="476.9" text-anchor="middle" font-size="12.8" textLength="47.3" lengthAdjust="spacingAndGlyphs">iage_w2</text>
<text x="189.8" y="476.9" text-anchor="middle" font-size="12.8" textLength="41.8" lengthAdjust="spacingAndGlyphs">iage_bl</text>
<text x="247.6" y="476.9" text-anchor="middle" font-size="12.8" textLength="47.3" lengthAdjust="spacingAndGlyphs">iage_w2</text>
<text x="305.3" y="476.9" text-anchor="middle" font-size="12.8" textLength="41.8" lengthAdjust="spacingAndGlyphs">iage_bl</text>
<text x="363.0" y="476.9" text-anchor="middle" font-size="12.8" textLength="47.3" lengthAdjust="spacingAndGlyphs">iage_w2</text>
<text x="420.8" y="476.9" text-anchor="middle" font-size="12.8" textLength="41.8" lengthAdjust="spacingAndGlyphs">iage_bl</text>
<text x="478.5" y="476.9" text-anchor="middle" font-size="12.8" textLength="47.3" lengthAdjust="spacingAndGlyphs">iage_w2</text>
<text x="536.2" y="476.9" text-anchor="middle" font-size="12.8" textLength="41.8" lengthAdjust="spacingAndGlyphs">iage_bl</text>
<text x="593.9" y="476.9" text-anchor="middle" font-size="12.8" textLength="47.3" lengthAdjust="spacingAndGlyphs">iage_w2</text>
<text x="651.7" y="476.9" text-anchor="middle" font-size="12.8" textLength="41.8" lengthAdjust="spacingAndGlyphs">iage_bl</text>
<text x="709.4" y="476.9" text-anchor="middle" font-size="12.8" textLength="47.3" lengthAdjust="spacingAndGlyphs">iage_w2</text>
<text x="767.1" y="476.9" text-anchor="middle" font-size="12.8" textLength="41.8" lengthAdjust="spacingAndGlyphs">iage_bl</text>
<text x="824.9" y="476.9" text-anchor="middle" font-size="12.8" textLength="47.3" lengthAdjust="spacingAndGlyphs">iage_w2</text>
<text x="882.6" y="476.9" text-anchor="middle" font-size="12.8" textLength="41.8" lengthAdjust="spacingAndGlyphs">iage_bl</text>
<text x="940.3" y="476.9" text-anchor="middle" font-size="12.8" textLength="47.3" lengthAdjust="spacingAndGlyphs">iage_w2</text>
<text transform="translate(14.5 236) rotate(-90)" text-anchor="middle" font-size="12.2" textLength="25.2" lengthAdjust="spacingAndGlyphs">iAge</text>
</g>
<g class="ar" font-size="16">
<text x="48.4" y="453" textLength="75.8" lengthAdjust="spacingAndGlyphs">p = 0.0027</text>
<text x="158.3" y="531.6" text-anchor="middle">LDL high</text>
<text x="389.7" y="531.6" text-anchor="middle">LDL low</text>
<text x="627.5" y="531.6" text-anchor="middle">LDL high</text>
<text x="858.7" y="531.6" text-anchor="middle">LDL low</text>
<text x="284.5" y="587.1" text-anchor="middle">iAge high</text>
<text x="763.5" y="587.1" text-anchor="middle">iAge low</text>
</g>
<g stroke="#000" stroke-width="3.2" fill="none">
<path d="M100.7 503.6H216.9M335.3 503.6H451.7M570.6 503.6H686.4M804.2 503.6H920.6"/>
<path d="M159.3 561.1H401.8M640.6 561.1H883.3"/>
</g>
</svg>
</body></html>
